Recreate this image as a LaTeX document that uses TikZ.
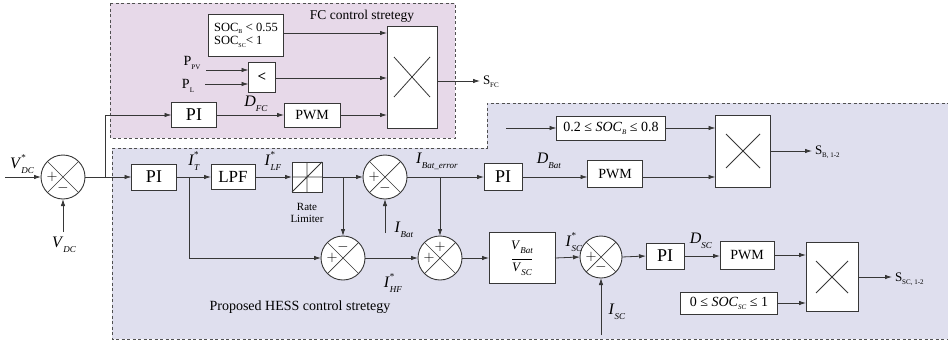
\documentclass[tikz,border=0pt]{standalone}
\usepackage{fontspec}
\setmainfont{Liberation Serif}
\usetikzlibrary{arrows.meta,calc}
\definecolor{linec}{RGB}{55,55,55}
\definecolor{fcfill}{RGB}{231,217,233}
\definecolor{hessfill}{RGB}{223,223,238}
\definecolor{dashc}{RGB}{80,80,80}
\newcommand{\fs}[1]{\fontsize{#1}{#1}\selectfont}
\newcommand{\vlab}[3]{\textit{#1}\makebox[0pt][l]{\raisebox{1.05ex}{\fs{9}#3}}\raisebox{-0.7ex}{\fs{9}\textit{#2}}}
\newcommand{\slab}[2]{S\raisebox{-0.5ex}{\fs{7}#2}}
\begin{document}
\begin{tikzpicture}[x=1pt,y=-1pt,
  every node/.style={inner sep=0pt,outer sep=0pt},
  blk/.style={draw=linec,fill=white,line width=0.9pt,minimum width=#1},
  sumn/.style={circle,draw=linec,fill=white,line width=0.9pt,minimum size=44pt,
    path picture={\draw[linec,line width=0.7pt]
      (path picture bounding box.north west)--(path picture bounding box.south east)
      (path picture bounding box.north east)--(path picture bounding box.south west);}},
  con/.style={linec,line width=0.8pt,-{Latex[length=7pt,width=4.5pt]}},
  ln/.style={linec,line width=0.8pt},
  region/.style={dashc,line width=0.8pt,dash pattern=on 3pt off 2.5pt},
  sgn/.style={font=\fs{15}},
  lbl/.style={font=\fs{16}},
]
\useasboundingbox (0,0) rectangle (948,343);
% regions
\fill[fcfill] (110,3) rectangle (455,138);
\draw[region] (110,3) rectangle (455,138);
\fill[hessfill] (112,148) -- (487,148) -- (487,103) -- (950,103) -- (950,339) -- (112,339) -- cycle;
\draw[region] (950,103) -- (487,103) -- (487,148) -- (112,148) -- (112,339) -- (950,339);
\node[font=\fs{13.5}] (fct) at (362,16) {FC control stretegy};
\node[font=\fs{14}] (hesst) at (300,307) {Proposed HESS control stretegy};

% left sum
\coordinate (in0) at (5,177);
\node[sumn] (s1) at (63,177) {};
\node[sgn] at ([xshift=-11pt]s1.center) {$+$};
\node[sgn] at ([yshift=-11pt]s1.center) {$-$};
\node[lbl] (vdcs) at (22,164) {\vlab{V}{DC}{*}};
\node[lbl] (vdc) at (64,245) {\vlab{V}{DC}{}};
\coordinate (vdcin) at (63,232);
\draw[con] (in0) -- (s1.west);
\draw[con] (vdcin) -- (s1.south);
\coordinate (br0) at (105,177);

% FC part
\node[blk=45pt,minimum height=25pt,font=\fs{18}] (fcpi) at (194,115) {PI};
\node[blk=56pt,minimum height=24pt,font=\fs{14}] (fcpwm) at (312,115) {PWM};
\node[blk=50pt,minimum height=102pt] (fcx) at (412,77) {};
\draw[ln] ([shift={(-18,-20)}]fcx.center) -- ([shift={(18,20)}]fcx.center)
          ([shift={(18,-20)}]fcx.center) -- ([shift={(-18,20)}]fcx.center);
\node[blk=75pt,minimum height=42pt,font=\fs{12.5},align=left] (soc) at (246,35)
  {SOC\raisebox{-0.4ex}{\fs{6}B} {\fs{13}<} 0.55\\[1pt]SOC\raisebox{-0.4ex}{\fs{6}SC}{\fs{13}<} 1};
\node[blk=27pt,minimum height=30pt,font=\fs{15}] (lt) at (262,77) {\textbf{<}};
\node[font=\fs{14}] (ppv) at (192,63) {P\raisebox{-0.6ex}{\fs{7}PV}};
\node[font=\fs{14}] (pl) at (188,86) {P\raisebox{-0.6ex}{\fs{7}L}};
\coordinate (ppvo) at (206,70);
\coordinate (plo) at (205,84);
\draw[con] (ppvo) -- (ppvo -| lt.west);
\draw[con] (plo) -- (plo -| lt.west);
\draw[con] (soc.east |- 0,33) -- (fcx.west |- 0,33);
\draw[con] (lt.east |- 0,78) -- (fcx.west |- 0,78);
\draw[con] (fcpwm.east) -- (fcx.west |- fcpwm.east);
\draw[con] (fcpi.east) -- (fcpwm.west);
\node[lbl] (dfc) at (256,104) {\vlab{D}{FC}{}};
\coordinate (sfco) at (480,81);
\draw[con] (fcx.east |- sfco) -- (sfco);
\node[font=\fs{13},anchor=west] (sfc) at (483,82) {\slab{S}{FC}};
\draw[ln] (s1.east) -- (br0);
\draw[con] (br0) |- (fcpi.west);

% HESS upper row
\node[blk=45pt,minimum height=26pt,font=\fs{18}] (pi1) at (154,177) {PI};
\node[blk=44pt,minimum height=25pt,font=\fs{17}] (lpf) at (233,177) {LPF};
\node[blk=30pt,minimum height=30pt] (rl) at (307,177) {};
\draw[ln] (rl.north) -- (rl.south) (rl.west) -- (rl.east) (rl.south west) -- (rl.north east);
\node[font=\fs{11},align=center] (rlt) at (307,213) {Rate\\[1pt]Limiter};
\node[sumn] (s2) at (385,177) {};
\node[sgn] at ([xshift=-11pt]s2.center) {$+$};
\node[sgn] at ([yshift=-11pt]s2.center) {$-$};
\node[blk=38pt,minimum height=27pt,font=\fs{18}] (pi2) at (503,177) {PI};
\node[blk=55pt,minimum height=27pt,font=\fs{14}] (pwm2) at (615,174) {PWM};
\node[blk=55pt,minimum height=72pt] (mx2) at (743,151) {};
\draw[ln] ([shift={(-17,-17)}]mx2.center) -- ([shift={(17,17)}]mx2.center)
          ([shift={(17,-17)}]mx2.center) -- ([shift={(-17,17)}]mx2.center);
\node[blk=109pt,minimum height=24pt,font=\fs{14}] (socb) at (611,128) {0.2 ≤ \textit{SOC}\raisebox{-0.5ex}{\fs{7}\textit{B}} ≤ 0.8};
\coordinate (socbin) at (506,128);
\draw[con] (socbin) -- (socb.west);
\draw[con] (socb.east) -- (mx2.west |- socb.east);
\draw[con] (br0) -- (pi1.west);
\draw[con] (pi1.east) -- (lpf.west);
\draw[con] (lpf.east) -- (rl.west);
\draw[con] (rl.east) -- (s2.west);
\draw[con] (s2.east) -- (pi2.west);
\draw[con] (pi2.east) -- (pwm2.west |- pi2.east);
\draw[con] (pwm2.east |- pi2.east) -- (mx2.west |- pi2.east);
\coordinate (sbo) at (812,151);
\draw[con] (mx2.east) -- (sbo);
\node[font=\fs{13},anchor=west] (sb) at (815,152) {\slab{S}{B, 1-2}};
\node[lbl] (it) at (194,161) {\vlab{I}{T}{*}};
\node[lbl] (ilf) at (273,161) {\vlab{I}{LF}{*}};
\node[lbl,anchor=west] (iberr) at (416,161) {\vlab{I}{Bat\_error}{}};
\node[lbl] (dbat) at (549,161) {\vlab{D}{Bat}{}};
\coordinate (ibatin) at (385,233);
\draw[con] (ibatin) -- (s2.south);
\node[lbl] (ibat) at (404,230) {\vlab{I}{Bat}{}};

% HESS lower row
\node[sumn] (s3) at (343,258) {};
\node[sgn] at ([xshift=-11pt]s3.center) {$+$};
\node[sgn] at ([yshift=11pt]s3.center) {$-$};
\node[sumn] (s4) at (440,258) {};
\node[sgn] at ([xshift=-11pt]s4.center) {$+$};
\node[sgn] at ([yshift=11pt]s4.center) {$+$};
\node[blk=66pt,minimum height=51pt,font=\fs{13}] (ratio) at (522,258)
  {\begin{tabular}{@{}c@{}}\vlab{V}{Bat}{}\\[-3pt]\rule{20pt}{0.5pt}\\[-1pt]\vlab{V}{SC}{}\end{tabular}};
\node[sumn,minimum size=42pt] (s5) at (601,257) {};
\node[sgn] at ([xshift=-10pt]s5.center) {$+$};
\node[sgn] at ([yshift=-10pt]s5.center) {$-$};
\node[blk=38pt,minimum height=26pt,font=\fs{18}] (pi3) at (665,256) {PI};
\node[blk=54pt,minimum height=28pt,font=\fs{14}] (pwm3) at (747,255) {PWM};
\node[blk=52pt,minimum height=69pt] (mx3) at (832,277) {};
\draw[ln] ([shift={(-16,-16)}]mx3.center) -- ([shift={(16,16)}]mx3.center)
          ([shift={(16,-16)}]mx3.center) -- ([shift={(-16,16)}]mx3.center);
\node[blk=97pt,minimum height=22pt,font=\fs{14}] (socsc) at (729,303) {0 ≤ \textit{SOC}\raisebox{-0.5ex}{\fs{7}\textit{SC}} ≤ 1};
\coordinate (itbr) at (189,177);
\coordinate (rlbr) at (343,177);
\coordinate (iebr) at (440,177);
\draw[con] (itbr) |- (s3.west);
\draw[con] (rlbr) -- (s3.north);
\draw[con] (iebr) -- (s4.north);
\draw[con] (s3.east) -- (s4.west);
\draw[con] (s4.east) -- (ratio.west);
\draw[con] (ratio.east) -- (s5.west);
\draw[con] (s5.east) -- (pi3.west);
\draw[con] (pi3.east) -- (pwm3.west |- pi3.east);
\draw[con] (pwm3.east) -- (mx3.west |- pwm3.east);
\draw[con] (socsc.east) -- (mx3.west |- socsc.east);
\coordinate (isin) at (601,335);
\draw[con] (isin) -- (s5.south);
\coordinate (ssco) at (892,277);
\draw[con] (mx3.east) -- (ssco);
\node[font=\fs{13},anchor=west] (ssc) at (895,279) {\slab{S}{SC, 1-2}};
\node[lbl] (ihf) at (393,283) {\vlab{I}{HF}{*}};
\node[lbl] (isc) at (574,242) {\vlab{I}{SC}{*}};
\node[lbl] (dsc) at (701,241) {\vlab{D}{SC}{}};
\node[lbl] (isc2) at (617,312) {\vlab{I}{SC}{}};
\end{tikzpicture}
\end{document}
